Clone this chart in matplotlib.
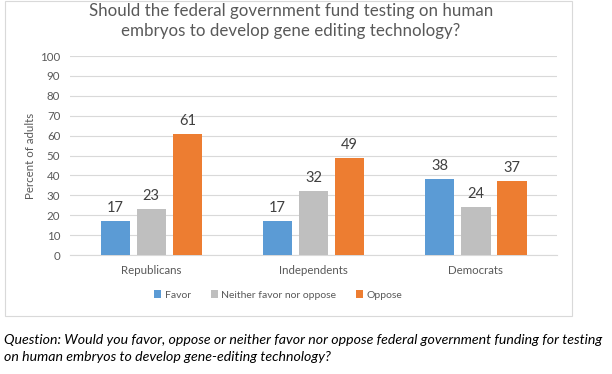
import numpy as np
import matplotlib.pyplot as plt
from matplotlib.patches import Rectangle

plt.rcParams['font.family'] = ['Lato', 'DejaVu Sans']

groups = ['Republicans', 'Independents', 'Democrats']
series = ['Favor', 'Neither favor nor oppose', 'Oppose']
favor = [17, 17, 38]
neither = [23, 32, 24]
oppose = [61, 49, 37]
colors = ['#5B9BD5', '#BFBFBF', '#ED7D31']

title = 'Should the federal government fund testing on human\nembryos to develop gene editing technology?'
caption = ('Question: Would you favor, oppose or neither favor nor oppose federal government funding for testing\n'
           'on human embryos to develop gene-editing technology?')

fig = plt.figure(figsize=(6.12, 3.74), dpi=100)
ax = fig.add_axes([0.1144, 0.318, 0.796, 0.532])

# chart border
fig.patches.append(Rectangle((5 / 612, 1 - 316 / 374), 567 / 612, 316 / 374 - 0.002,
                             transform=fig.transFigure, fill=False,
                             edgecolor='#D9D9D9', linewidth=0.8))

x = np.arange(len(groups))
w = 0.179
off = 0.222
for i, (vals, name, c) in enumerate(zip([favor, neither, oppose], series, colors)):
    pos = x + (i - 1) * off
    ax.bar(pos, vals, w, color=c, label=name, zorder=3)
    for px, v in zip(pos, vals):
        ax.text(px, v + 3, str(v), ha='center', va='bottom',
                fontsize=10.5, color='#404040')

ax.set_xlim(-0.5, 2.5)
ax.set_ylim(0, 100)
ax.set_yticks(range(0, 101, 10))
ax.yaxis.grid(True, color='#D9D9D9', linewidth=0.8, zorder=0)
ax.set_xticks(x)
ax.set_xticklabels(groups)
ax.tick_params(axis='both', length=0, labelsize=8.3, colors='#595959')
ax.tick_params(axis='x', pad=7)
ax.tick_params(axis='y', pad=7)
for s in ['top', 'right', 'left']:
    ax.spines[s].set_visible(False)
ax.spines['bottom'].set_color('#D9D9D9')
ax.set_ylabel('Percent of adults', fontsize=8.3, color='#595959', labelpad=3)

fig.text(0.475, 1 - 21 / 374, title, ha='center', va='center',
         fontsize=12.2, color='#595959', linespacing=1.3)

ax.legend(loc='upper center', bbox_to_anchor=(0.427, -0.13), ncol=3, frameon=False,
          fontsize=7.5, labelcolor='#595959', handlelength=0.7, handleheight=0.7,
          handletextpad=0.3, columnspacing=1.9)

fig.text(4 / 612, 1 - 348.5 / 374, caption, ha='left', va='center',
         fontsize=10.2, style='italic', color='black', linespacing=1.5)

fig.savefig('out.png', dpi=100)
